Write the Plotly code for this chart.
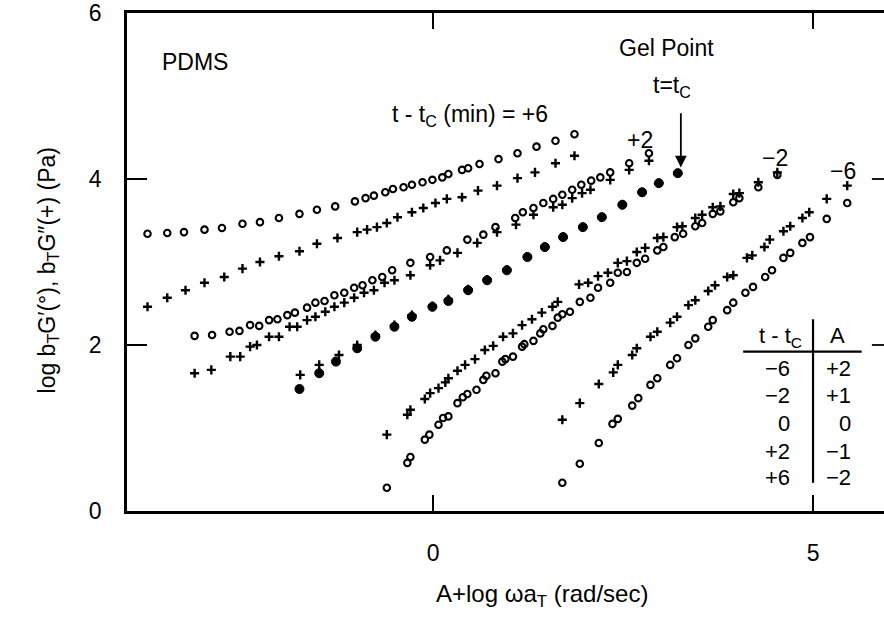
import plotly.graph_objects as go

# ---- data: x = A + log(omega a_T) [rad/s], y = log b_T G' or log b_T G'' [Pa]
# t - tc = +6 min (A = -2)
p6_gp_x = [-3.76, -3.50, -3.28, -3.01, -2.78, -2.51, -2.28, -2.03, -1.76, -1.53, -1.29, -1.03,
           -0.89, -0.78, -0.63, -0.53, -0.39, -0.28, -0.14, -0.01, 0.12, 0.20, 0.38, 0.46,
           0.61, 0.86, 1.11, 1.36, 1.61, 1.86]
p6_gp_y = [3.34, 3.35, 3.36, 3.39, 3.41, 3.46, 3.48, 3.53, 3.58, 3.63, 3.67, 3.73,
           3.77, 3.80, 3.84, 3.88, 3.90, 3.93, 3.96, 3.99, 4.02, 4.06, 4.11, 4.13,
           4.18, 4.24, 4.31, 4.39, 4.46, 4.54]
p6_gpp_x = [-3.76, -3.50, -3.26, -3.01, -2.75, -2.51, -2.28, -2.03, -1.76, -1.53, -1.26, -1.00,
            -0.87, -0.74, -0.61, -0.47, -0.28, -0.13, 0.03, 0.18, 0.38, 0.59, 0.84, 1.11,
            1.34, 1.61, 1.86]
p6_gpp_y = [2.46, 2.57, 2.66, 2.75, 2.82, 2.92, 3.00, 3.07, 3.13, 3.22, 3.29, 3.36,
            3.39, 3.42, 3.47, 3.54, 3.60, 3.65, 3.71, 3.76, 3.78, 3.86, 3.92, 4.01,
            4.08, 4.19, 4.28]

# t - tc = +2 min (A = -1)
p2_gp_x = [-3.14, -2.91, -2.68, -2.55, -2.41, -2.29, -2.16, -2.05, -1.92, -1.82, -1.66, -1.55,
           -1.43, -1.30, -1.17, -1.04, -0.93, -0.80, -0.67, -0.54, -0.30, -0.04, 0.18, 0.45,
           0.66, 0.82, 1.08, 1.18, 1.32, 1.45, 1.58, 1.70, 1.83, 1.95, 2.08, 2.20, 2.33,
           2.58, 2.84]
p2_gp_y = [2.11, 2.12, 2.16, 2.17, 2.24, 2.23, 2.30, 2.31, 2.36, 2.39, 2.45, 2.51,
           2.53, 2.60, 2.63, 2.69, 2.72, 2.78, 2.82, 2.90, 2.99, 3.06, 3.14, 3.27,
           3.33, 3.42, 3.53, 3.60, 3.65, 3.71, 3.76, 3.81, 3.87, 3.93, 3.98, 4.02, 4.08,
           4.19, 4.31]
p2_gpp_x = [-3.14, -2.92, -2.67, -2.54, -2.41, -2.32, -2.16, -2.03, -1.89, -1.79, -1.66, -1.55,
            -1.42, -1.30, -1.17, -1.04, -0.91, -0.78, -0.64, -0.51, -0.30, -0.04, 0.09, 0.32,
            0.58, 0.84, 1.09, 1.32, 1.58, 1.70, 1.83, 1.96, 2.07, 2.33, 2.58, 2.84]
p2_gpp_y = [1.66, 1.70, 1.86, 1.86, 1.98, 2.00, 2.10, 2.10, 2.22, 2.22, 2.30, 2.34,
            2.40, 2.46, 2.51, 2.57, 2.63, 2.66, 2.75, 2.78, 2.84, 2.96, 3.02, 3.11,
            3.23, 3.36, 3.45, 3.57, 3.66, 3.69, 3.77, 3.83, 3.87, 3.99, 4.11, 4.22]

# t - tc = 0 (gel point, A = 0): G' and G'' coincide
gel_gp_x = [-1.76, -1.50, -1.28, -1.00, -0.76, -0.51, -0.28, -0.01, 0.20, 0.46, 0.71, 0.97,
            1.24, 1.47, 1.71, 1.97, 2.22, 2.49, 2.75, 2.97, 3.22]
gel_gp_y = [1.47, 1.66, 1.80, 1.96, 2.10, 2.22, 2.34, 2.46, 2.53, 2.66, 2.78, 2.90,
            3.06, 3.18, 3.30, 3.42, 3.54, 3.69, 3.84, 3.95, 4.07]
gel_gpp_x = [-1.75, -1.50, -1.24, -1.00, -0.76, -0.51, -0.28, -0.01, 0.20, 0.46, 0.71, 0.97,
             1.24, 1.47, 1.71, 1.97, 2.22, 2.49, 2.75, 2.97, 3.22]
gel_gpp_y = [1.64, 1.76, 1.88, 2.00, 2.12, 2.24, 2.36, 2.47, 2.55, 2.67, 2.79, 2.91,
             3.06, 3.18, 3.30, 3.42, 3.54, 3.69, 3.84, 3.95, 4.07]

# t - tc = -2 min (A = +1)
m2_gp_x = [-0.61, -0.34, -0.30, -0.11, -0.05, 0.07, 0.13, 0.20, 0.32, 0.39, 0.45, 0.57,
           0.66, 0.70, 0.82, 0.91, 0.95, 1.05, 1.17, 1.20, 1.32, 1.41, 1.45, 1.57, 1.64,
           1.70, 1.80, 1.93, 2.07, 2.17, 2.33, 2.43, 2.55, 2.68, 2.79, 2.95, 3.03, 3.18,
           3.29, 3.45, 3.54, 3.68, 3.78, 3.95, 4.03, 4.28, 4.53]
m2_gp_y = [0.28, 0.58, 0.65, 0.86, 0.92, 1.04, 1.12, 1.14, 1.30, 1.37, 1.41, 1.46,
           1.58, 1.63, 1.66, 1.80, 1.83, 1.86, 1.98, 2.01, 2.05, 2.14, 2.19, 2.23, 2.33,
           2.37, 2.40, 2.52, 2.57, 2.69, 2.75, 2.87, 2.88, 2.99, 3.04, 3.14, 3.18, 3.30,
           3.34, 3.43, 3.47, 3.58, 3.61, 3.72, 3.77, 3.90, 4.05]
m2_gpp_x = [-0.61, -0.34, -0.30, -0.11, -0.04, 0.07, 0.16, 0.20, 0.32, 0.42, 0.55, 0.68,
            0.79, 0.92, 1.05, 1.17, 1.30, 1.43, 1.57, 1.64, 1.92, 2.04, 2.17, 2.30, 2.43,
            2.55, 2.68, 2.79, 2.95, 3.03, 3.21, 3.28, 3.45, 3.54, 3.68, 3.78, 3.95, 4.03,
            4.28, 4.53]
m2_gpp_y = [0.92, 1.16, 1.22, 1.35, 1.42, 1.48, 1.55, 1.60, 1.69, 1.76, 1.83, 1.94,
            1.99, 2.10, 2.14, 2.24, 2.31, 2.39, 2.46, 2.52, 2.73, 2.75, 2.83, 2.87, 2.99,
            3.01, 3.12, 3.17, 3.29, 3.30, 3.42, 3.43, 3.53, 3.57, 3.66, 3.67, 3.82, 3.83,
            3.96, 4.08]

# t - tc = -6 min (A = +2)
m6_gp_x = [1.70, 1.93, 2.18, 2.36, 2.43, 2.62, 2.70, 2.86, 2.95, 3.12, 3.21, 3.36,
           3.45, 3.62, 3.68, 3.87, 3.95, 4.11, 4.21, 4.37, 4.46, 4.61, 4.70, 4.86, 4.96,
           5.18, 5.45]
m6_gp_y = [0.34, 0.57, 0.82, 1.05, 1.11, 1.27, 1.36, 1.52, 1.60, 1.76, 1.84, 2.00,
           2.08, 2.22, 2.30, 2.42, 2.51, 2.63, 2.70, 2.82, 2.90, 3.05, 3.11, 3.23, 3.30,
           3.52, 3.71]
m6_gpp_x = [1.70, 1.93, 2.18, 2.37, 2.43, 2.62, 2.68, 2.86, 2.95, 3.12, 3.21, 3.36,
            3.45, 3.62, 3.71, 3.87, 3.95, 4.13, 4.20, 4.36, 4.43, 4.61, 4.70, 4.86, 4.95,
            5.18, 5.45]
m6_gpp_y = [1.10, 1.30, 1.53, 1.67, 1.76, 1.88, 1.96, 2.10, 2.16, 2.27, 2.34, 2.48,
            2.54, 2.65, 2.72, 2.82, 2.84, 3.05, 3.08, 3.18, 3.27, 3.37, 3.43, 3.53, 3.60,
            3.76, 3.92]

# shift table
table_tc = ["\u22126", "\u22122", "0", "+2", "+6"]
table_a = ["+2", "+1", "0", "\u22121", "\u22122"]

# curve labels: (text, x, y)
curve_labels = [
    ("t - t<sub>C</sub> (min) = +6", 0.49, 4.76),
    ("+2", 2.72, 4.47),
    ("\u22122", 4.50, 4.25),
    ("\u22126", 5.39, 4.10),
]

FONT = "Liberation Sans, Arial, Helvetica, sans-serif"
INK = "black"

fig = go.Figure()

open_circle = dict(symbol="circle-open", size=6.5, color=INK, line=dict(width=2.1, color=INK))
plus_mark = dict(symbol="cross-thin", size=6.5, color=INK, line=dict(width=2.4, color=INK))
gel_mark = dict(symbol="circle", size=9, color=INK, line=dict(width=1, color=INK))

for gx, gy, px, py in [
    (p6_gp_x, p6_gp_y, p6_gpp_x, p6_gpp_y),
    (p2_gp_x, p2_gp_y, p2_gpp_x, p2_gpp_y),
    (m2_gp_x, m2_gp_y, m2_gpp_x, m2_gpp_y),
    (m6_gp_x, m6_gp_y, m6_gpp_x, m6_gpp_y),
]:
    fig.add_trace(go.Scatter(x=gx, y=gy, mode="markers", marker=open_circle, hoverinfo="skip"))
    fig.add_trace(go.Scatter(x=px, y=py, mode="markers", marker=plus_mark, hoverinfo="skip"))

fig.add_trace(go.Scatter(x=gel_gpp_x, y=gel_gpp_y, mode="markers", marker=plus_mark, hoverinfo="skip"))
fig.add_trace(go.Scatter(x=gel_gp_x, y=gel_gp_y, mode="markers", marker=gel_mark, hoverinfo="skip"))

annotations = []
for text, x, y in curve_labels:
    annotations.append(dict(text=text, x=x, y=y, xref="x", yref="y", showarrow=False,
                            font=dict(size=23)))

annotations += [
    dict(text="PDMS", x=-3.14, y=5.41, xref="x", yref="y", showarrow=False, font=dict(size=23)),
    dict(text="Gel Point", x=3.07, y=5.58, xref="x", yref="y", showarrow=False, font=dict(size=23)),
    dict(text="t=t<sub>C</sub>", x=3.14, y=5.12, xref="x", yref="y", showarrow=False, font=dict(size=23)),
    # arrow pointing at the gel-point curve end
    dict(text="", x=gel_gp_x[-1] + 0.04, y=gel_gp_y[-1] + 0.07, xref="x", yref="y",
         ax=gel_gp_x[-1] + 0.04, ay=4.81, axref="x", ayref="y",
         showarrow=True, arrowhead=2, arrowsize=1.3, arrowwidth=1.8, arrowcolor=INK),
    # axis titles
    dict(text="log b<sub>T</sub>G\u2032(\u00b0), b<sub>T</sub>G\u2033(+) (Pa)", textangle=-90,
         x=-0.1255, y=0.484, xref="paper", yref="paper", showarrow=False, font=dict(size=23)),
    dict(text="A+log \u03c9a<sub>T</sub> (rad/sec)",
         x=0.548, y=-0.205, xref="paper", yref="paper", showarrow=False, font=dict(size=24)),
    # table header
    dict(text="t - t<sub>C</sub>", x=4.57, y=2.10, xref="x", yref="y", showarrow=False, font=dict(size=22)),
    dict(text="A", x=5.32, y=2.12, xref="x", yref="y", showarrow=False, font=dict(size=22)),
]

row_y = [1.72, 1.39, 1.06, 0.72, 0.40]
for tc, a, y in zip(table_tc, table_a, row_y):
    annotations.append(dict(text=tc, x=4.72, y=y, xref="x", yref="y", xanchor="right",
                            showarrow=False, font=dict(size=22)))
    annotations.append(dict(text=a, x=5.53, y=y, xref="x", yref="y", xanchor="right",
                            showarrow=False, font=dict(size=22)))

shapes = [
    # table rules
    dict(type="line", xref="x", yref="y", x0=5.0, x1=5.0, y0=0.34, y1=2.31, line=dict(color=INK, width=2.2)),
    dict(type="line", xref="x", yref="y", x0=4.08, x1=5.64, y0=1.92, y1=1.92, line=dict(color=INK, width=2.2)),
    # inward ticks of the right-hand frame edge
    dict(type="line", xref="paper", yref="y", x0=0.984, x1=1.0, y0=4, y1=4, line=dict(color=INK, width=1.8)),
    dict(type="line", xref="paper", yref="y", x0=0.984, x1=1.0, y0=2, y1=2, line=dict(color=INK, width=1.8)),
]

fig.update_layout(
    width=884, height=631,
    margin=dict(l=127, r=0, t=13, b=120),
    paper_bgcolor="white", plot_bgcolor="white",
    showlegend=False,
    font=dict(family=FONT, size=23, color=INK),
    annotations=annotations,
    shapes=shapes,
    xaxis=dict(range=[-4.03, 5.934], tickvals=[0, 5], ticktext=["0", "5"],
               ticks="inside", ticklen=16, tickwidth=1.8, tickcolor=INK,
               showline=True, linewidth=2.8, linecolor=INK, mirror="ticks",
               showgrid=False, zeroline=False, ticklabelstandoff=19,
               tickfont=dict(size=23)),
    yaxis=dict(range=[0, 6], tickvals=[0, 2, 4, 6], ticktext=["0", "2", "4", "6"],
               ticks="inside", ticklen=20, tickwidth=1.8, tickcolor=INK,
               showline=True, linewidth=2.8, linecolor=INK, mirror=False,
               showgrid=False, zeroline=False, ticklabelstandoff=18,
               tickfont=dict(size=23)),
)

fig.write_html("out.html")
